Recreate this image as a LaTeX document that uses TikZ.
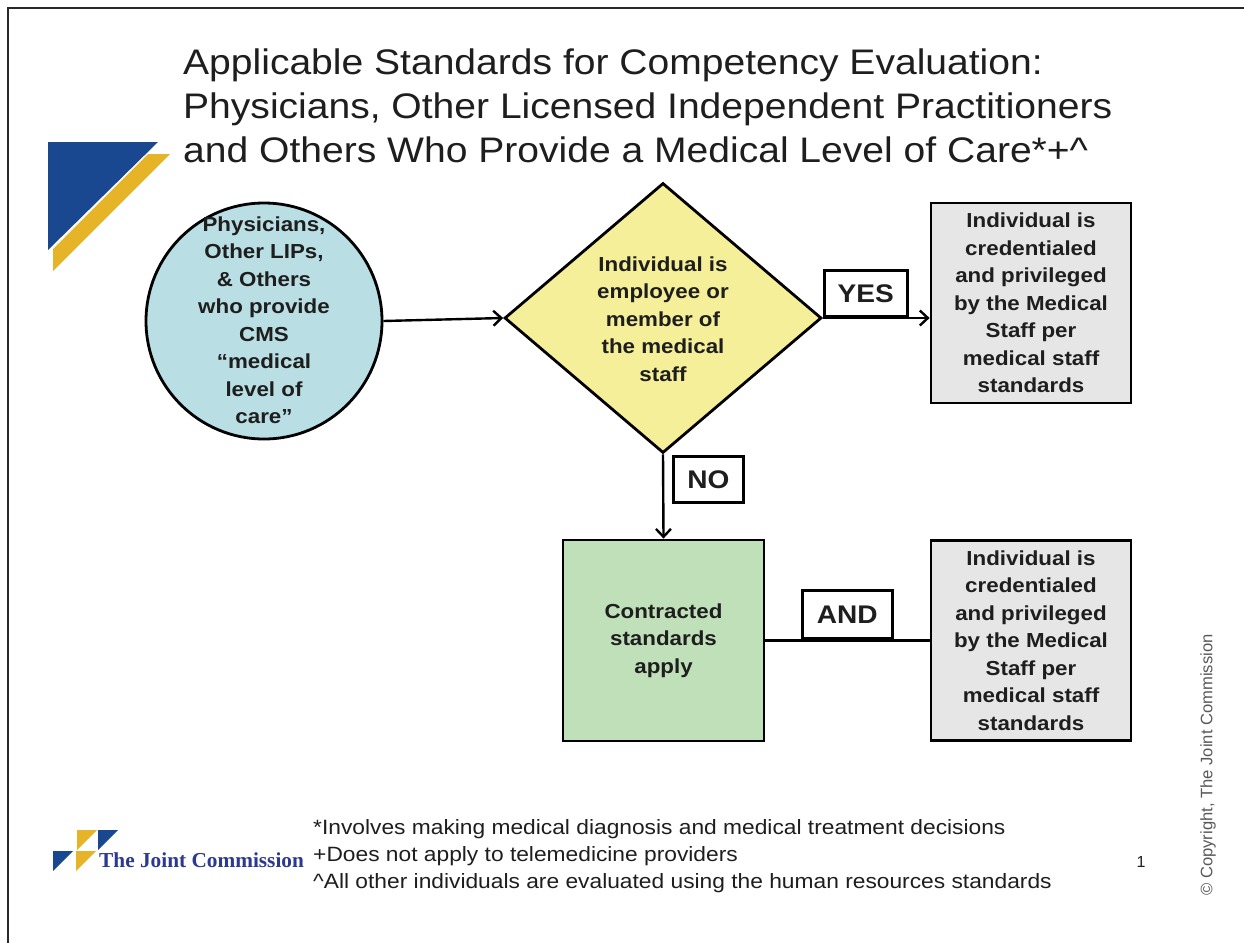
\documentclass[tikz,border=0pt]{standalone}
\usepackage{fontspec}
\setmainfont{Liberation Sans}[FakeStretch=1.1]
\newfontfamily\plainsans{Liberation Sans}
\newfontfamily\logoserif{Liberation Serif}
\usetikzlibrary{shapes.geometric,arrows.meta}
\definecolor{titlecol}{RGB}{30,30,30}
\definecolor{tjcblue}{RGB}{25,72,145}
\definecolor{tjcyellow}{RGB}{230,180,40}
\definecolor{circfill}{RGB}{185,222,227}
\definecolor{diafill}{RGB}{244,239,152}
\definecolor{grayfill}{RGB}{230,230,230}
\definecolor{greenfill}{RGB}{191,224,184}
\definecolor{logoblue}{RGB}{43,57,144}
\definecolor{framecol}{RGB}{40,40,40}
\tikzset{
  titletext/.style={anchor=base west, inner sep=0pt, text=titlecol, font=\fontsize{35.5}{44}\selectfont},
  btext/.style={align=center, inner sep=0pt, text=titlecol, font=\bfseries\fontsize{20.3}{27.5}\selectfont},
  shapeln/.style={draw=black, line width=2.8pt},
  boxnode/.style={shapeln, rectangle, inner sep=0pt, minimum width=200pt, minimum height=200pt, align=center, text=titlecol, font=\bfseries\fontsize{20.3}{27.5}\selectfont},
  conn/.style={draw=black, line width=2.4pt},
  arr/.style={-{Straight Barb[length=8pt,width=15pt]}},
  lbl/.style={draw=black, line width=2.6pt, fill=white, inner sep=0pt, text=titlecol, font=\bfseries\fontsize{25.5}{25.5}\selectfont},
  foot/.style={anchor=base west, inner sep=0pt, text=titlecol, font=\fontsize{20.7}{20.7}\selectfont}
}
\begin{document}
\begin{tikzpicture}[x=1pt,y=-1pt]
\useasboundingbox (0,0) rectangle (1244,943);
\fill[white] (0,0) rectangle (1244,943);
% frame
\draw[framecol, line width=2.4pt] (1244,8) -- (8,8) -- (8,943);
% top-left logo
\fill[tjcblue] (48,142) -- (158,142) -- (48,250) -- cycle;
\fill[tjcyellow] (148,154) -- (170,154) -- (53,271) -- (53,249) -- cycle;
% title
\node[titletext] (t1) at (183,74) {Applicable Standards for Competency Evaluation:};
\node[titletext] (t2) at (183,118) {Physicians, Other Licensed Independent Practitioners};
\node[titletext] (t3) at (183,162) {and Others Who Provide a Medical Level of Care*+\textasciicircum};
% shapes
\node[shapeln, circle, fill=circfill, minimum size=236pt, inner sep=0pt] (c) at (264,321) {};
\node[btext] (ctext) at (264,320) {Physicians,\\Other LIPs,\\\& Others\\who provide\\CMS\\“medical\\level of\\care”};
\node[shapeln, diamond, fill=diafill, minimum width=317pt, minimum height=270pt, inner sep=0pt] (d) at (663,318) {};
\node[btext] (dtext) at (663,319) {Individual is\\employee or\\member of\\the medical\\staff};
\node[boxnode, fill=grayfill] (g1) at (1031,303) {Individual is\\credentialed\\and privileged\\by the Medical\\Staff per\\medical staff\\standards};
\node[boxnode, fill=greenfill, minimum width=201pt, minimum height=201pt] (gr) at (663.5,640.5) {Contracted\\standards\\apply};
\node[boxnode, fill=grayfill] (g2) at (1031,640.5) {Individual is\\credentialed\\and privileged\\by the Medical\\Staff per\\medical staff\\standards};
% connectors
\draw[conn, arr] (c.east) -- (d.west);
\draw[conn, arr] (d.east) -- (d.east -| g1.west);
\draw[conn, arr] (d.south) -- (gr.north);
\draw[conn] (gr.east) -- (g2.west);
% labels
\node[lbl, anchor=south west, minimum width=83pt, minimum height=46pt] (yes) at (d.east) {YES};
\node[lbl, anchor=north west, minimum width=70pt, minimum height=46pt] (no) at (672,455) {NO};
\node[lbl, anchor=south west, minimum width=90pt, minimum height=48pt] (and) at (801,640) {AND};
% bottom logo
\fill[tjcyellow] (77,830) -- (97,830) -- (77,850) -- cycle;
\fill[tjcblue] (98,830) -- (118,830) -- (98,850) -- cycle;
\fill[tjcblue] (53,851) -- (73,851) -- (53,871) -- cycle;
\fill[tjcyellow] (76,851) -- (96,851) -- (76,871) -- cycle;
\node[anchor=base west, inner sep=0pt, text=logoblue, font=\logoserif\bfseries\fontsize{21.3}{21.3}\selectfont] (tjc) at (99,867) {The Joint Commission};
% footnotes
\node[foot] (f1) at (313,834) {*Involves making medical diagnosis and medical treatment decisions};
\node[foot] (f2) at (313,861) {+Does not apply to telemedicine providers};
\node[foot] (f3) at (313,888) {\textasciicircum All other individuals are evaluated using the human resources standards};
% page number and copyright
\node[inner sep=0pt, text=titlecol, font=\plainsans\fontsize{16}{16}\selectfont] (pg) at (1141,862) {1};
\node[rotate=90, inner sep=0pt, text=black!65, font=\plainsans\fontsize{16.6}{16.6}\selectfont] (copy) at (1208,765) {© Copyright, The Joint Commission};
\end{tikzpicture}
\end{document}
